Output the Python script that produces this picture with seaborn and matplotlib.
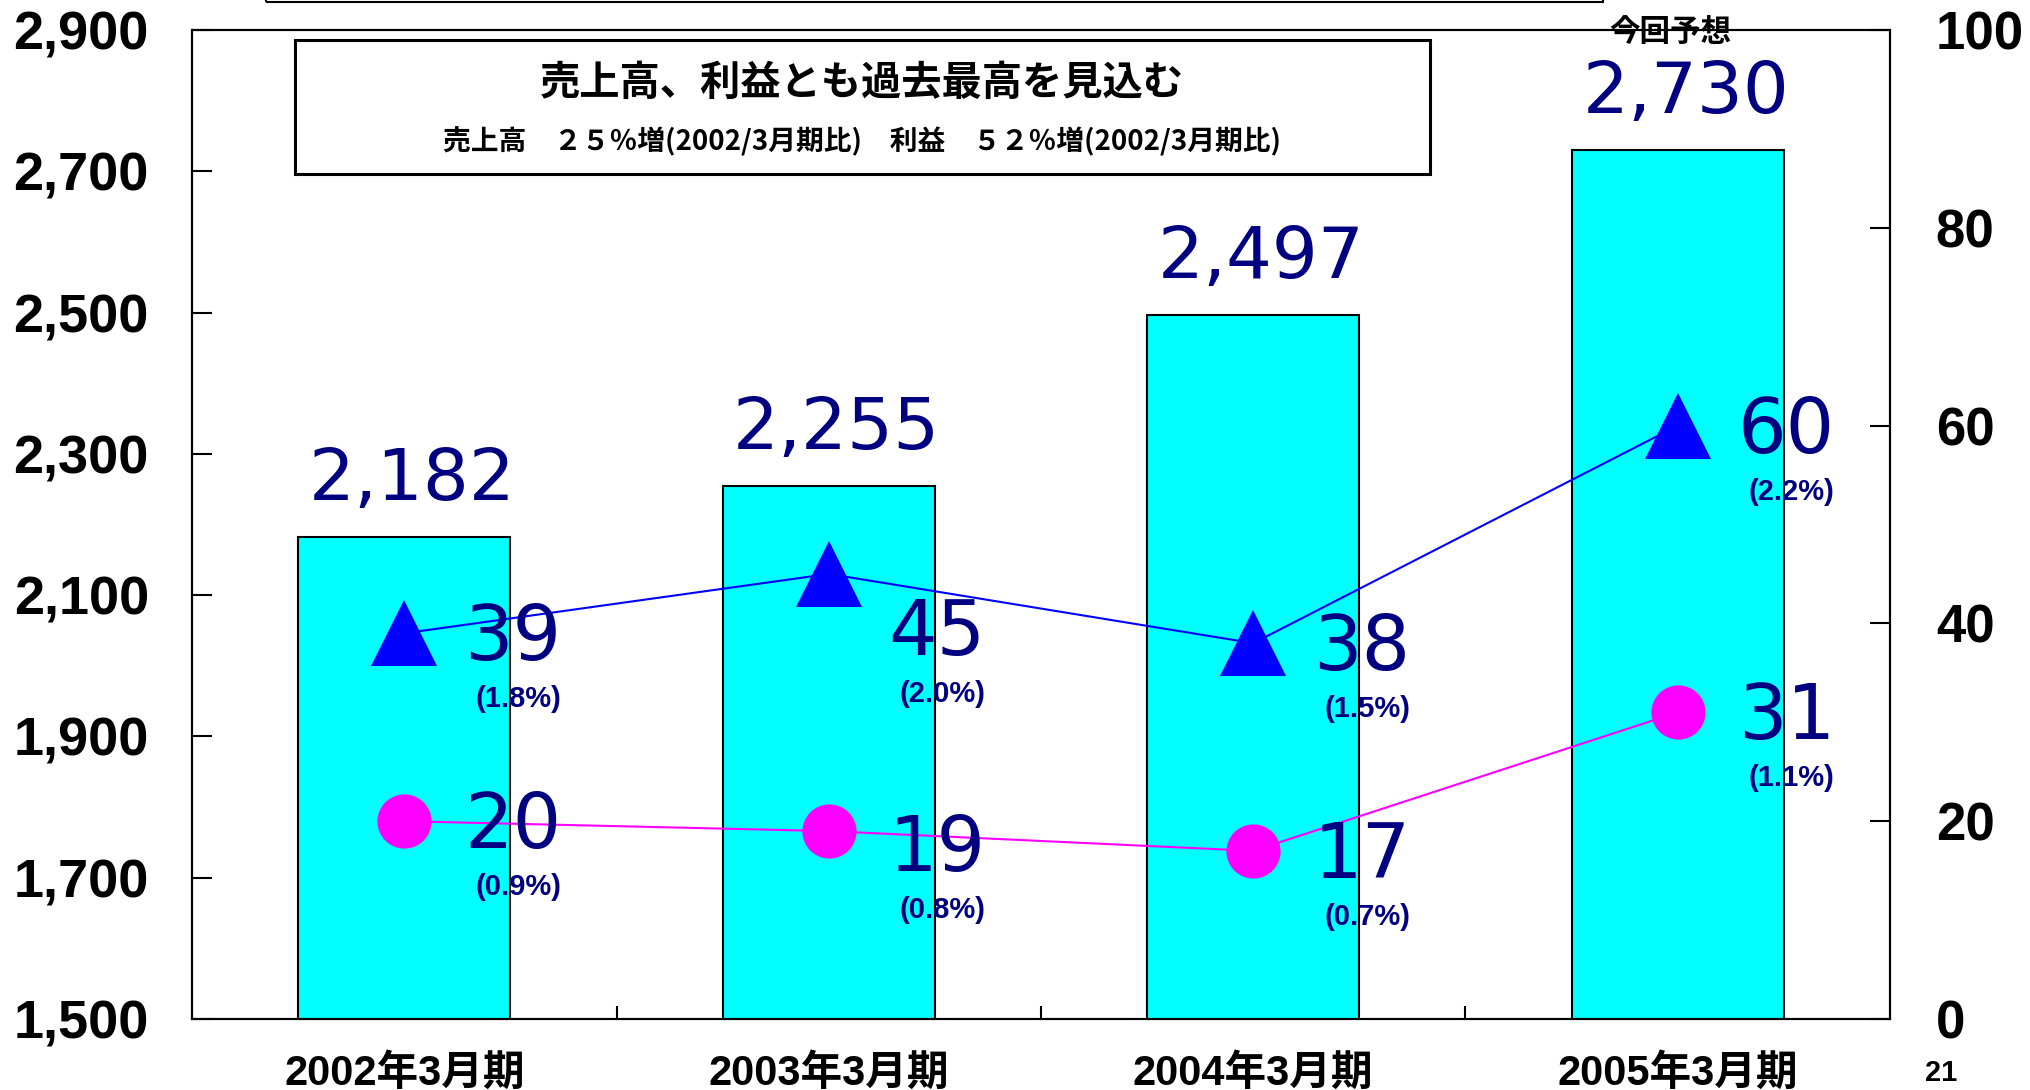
import numpy as np
import pandas as pd
import matplotlib.pyplot as plt
import matplotlib.patches as mpatches
import seaborn as sns

# data
periods = ['2002年3月期', '2003年3月期', '2004年3月期', '2005年3月期']
sales = [2182, 2255, 2497, 2730]
op_profit = [39, 45, 38, 60]
op_margin = ['(1.8%)', '(2.0%)', '(1.5%)', '(2.2%)']
net_profit = [20, 19, 17, 31]
net_margin = ['(0.9%)', '(0.8%)', '(0.7%)', '(1.1%)']
left_ticks = [1500, 1700, 1900, 2100, 2300, 2500, 2700, 2900]
right_ticks = [0, 20, 40, 60, 80, 100]

# extra downward nudge (px) of a few labels, as in the original slide
op_nudge = [0, 54, 0, 0]
net_nudge = [0, 13, 0, 0]

W, H = 2031, 1090
PX = 72 / 100  # points per pixel at dpi 100

sns.set_style('ticks')
plt.rcParams['font.family'] = ['Liberation Sans', 'Noto Sans CJK JP']
plt.rcParams['text.color'] = 'black'
plt.rcParams['xtick.color'] = 'black'
plt.rcParams['ytick.color'] = 'black'
plt.rcParams['xtick.labelcolor'] = 'black'
plt.rcParams['ytick.labelcolor'] = 'black'
cjk = ['Noto Sans CJK JP']
navy = '#000080'

fig = plt.figure(figsize=(W / 100, H / 100), dpi=100)
ax = fig.add_axes([192 / W, (H - 1019) / H, (1890 - 192) / W, (1019 - 30) / H])

df = pd.DataFrame({'period': periods, 'sales': sales})
sns.barplot(data=df, x='period', y='sales', ax=ax, color='#00FFFF', saturation=1,
            width=0.5, edgecolor='black', linewidth=1.5)

ax2 = ax.twinx()
sns.lineplot(x=np.arange(len(periods)), y=op_profit, ax=ax2, color='#0000FF',
             linewidth=1.5, marker='^', markersize=48, markeredgewidth=0)
sns.lineplot(x=np.arange(len(periods)), y=net_profit, ax=ax2, color='#FF00FF',
             linewidth=1.5, marker='o', markersize=39, markeredgewidth=0)

# axes / ticks
ax.set_ylim(1500, 2900)
ax2.set_ylim(0, 100)
ax.set_xlim(-0.5, 3.5)
ax.set_xlabel('')
ax.set_ylabel('')
ax2.set_ylabel('')
ax.set_yticks(left_ticks, labels=[f'{v:,}' for v in left_ticks], fontsize=39, fontweight='bold')
ax2.set_yticks(right_ticks, labels=[str(v) for v in right_ticks], fontsize=38, fontweight='bold')
ax.tick_params(axis='y', direction='in', length=20 * PX, width=1.5, pad=31)
ax2.tick_params(axis='y', direction='in', length=20 * PX, width=1.5, pad=33)
ax.set_xticks(range(len(periods)), labels=periods, fontsize=30, fontweight='bold')
ax.tick_params(axis='x', which='major', length=0, pad=25)
ax.set_xticks([0.5, 1.5, 2.5], minor=True)
ax.tick_params(axis='x', which='minor', direction='in', length=13 * PX, width=1.5)
for a in (ax, ax2):
    for s in a.spines.values():
        s.set_visible(True)
        s.set_color('black')
        s.set_linewidth(1.5)

# value labels
for i, v in enumerate(sales):
    ax.annotate(f'{v:,}', xy=(i, v), xytext=(8 * PX, 37 * PX), textcoords='offset points',
                ha='center', va='baseline', fontsize=52, color=navy, family='DejaVu Sans')

for vals, pcts, nudge in [(op_profit, op_margin, op_nudge), (net_profit, net_margin, net_nudge)]:
    for i, v in enumerate(vals):
        dy = nudge[i]
        ax2.annotate(str(v), xy=(i, v), xytext=(60 * PX, (-27 - dy) * PX), textcoords='offset points',
                     ha='left', va='baseline', fontsize=55, color=navy, family='DejaVu Sans')
        ax2.annotate(pcts[i], xy=(i, v), xytext=(114 * PX, (-66 - dy) * PX), textcoords='offset points',
                     ha='center', va='center', fontsize=21, fontweight='bold', color=navy)

# headline box
fig.add_artist(mpatches.Rectangle((295 / W, 1 - 174 / H), (1430 - 295) / W, (174 - 40) / H,
                                  transform=fig.transFigure, fill=False, edgecolor='black', linewidth=2.2))
fig.add_artist(mpatches.Rectangle((266 / W, 1 - 2 / H), (1603 - 266) / W, 0.05,
                                  transform=fig.transFigure, fill=False, edgecolor='black', linewidth=1.5))
fig.text(862 / W, 1 - 83 / H, '売上高、利益とも過去最高を見込む', ha='center', va='center',
         fontsize=29, fontweight='bold', family=cjk)
fig.text(862 / W, 1 - 142 / H, '売上高　２５％増(2002/3月期比)　利益　５２％増(2002/3月期比)',
         ha='center', va='center', fontsize=20, fontweight='bold', family=cjk)
fig.text(1670 / W, 1 - 32 / H, '今回予想', ha='center', va='center', fontsize=22,
         fontweight='bold', family=cjk)
fig.text(1941 / W, 1 - 1073 / H, '21', ha='center', va='center', fontsize=21, fontweight='bold')

fig.savefig('out.png', dpi=100)
